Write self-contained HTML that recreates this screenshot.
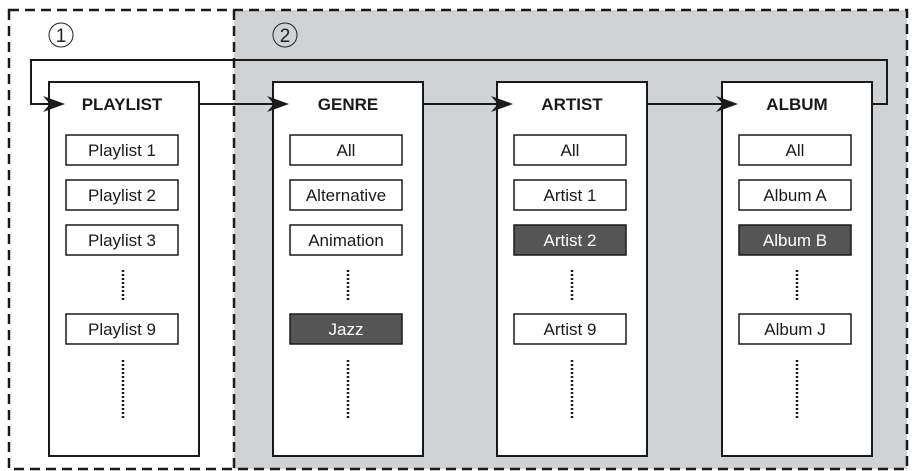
<!DOCTYPE html>
<html><head><meta charset="utf-8"><style>
html,body{margin:0;padding:0;background:#fff;}
svg{display:block;}
</style></head><body>
<svg width="912" height="471" viewBox="0 0 912 471" xmlns="http://www.w3.org/2000/svg" font-family="'Liberation Sans', Arial, sans-serif">
<defs>
<g id="ah"><path d="M-22,-8 L0,0 L-22,8 L-15,0 Z" fill="#1a1a1a"/></g>
</defs>
<rect x="234" y="10" width="673" height="459" fill="#d1d2d4"/>
<rect x="9" y="10" width="898" height="459" fill="none" stroke="#1a1a1a" stroke-width="2.5" stroke-dasharray="10,6"/>
<line x1="234" y1="10" x2="234" y2="469" stroke="#1a1a1a" stroke-width="2.5" stroke-dasharray="10,6"/>
<circle cx="61" cy="35" r="12" fill="none" stroke="#222" stroke-width="1"/>
<text x="61" y="42" font-size="19" text-anchor="middle" fill="#222" font-family="'Liberation Sans', Arial, sans-serif">1</text>
<circle cx="285" cy="35" r="12" fill="none" stroke="#222" stroke-width="1"/>
<text x="285" y="42" font-size="19" text-anchor="middle" fill="#222" font-family="'Liberation Sans', Arial, sans-serif">2</text>
<polyline points="51,104 31,104 31,60 887,60 887,104 872,104" fill="none" stroke="#1a1a1a" stroke-width="2"/>
<g stroke="#1a1a1a" stroke-width="2">
<line x1="199" y1="104" x2="275" y2="104"/>
<line x1="423" y1="104" x2="499" y2="104"/>
<line x1="647" y1="104" x2="724" y2="104"/>
</g>
<g fill="#fff" stroke="#1a1a1a" stroke-width="2">
<rect x="49" y="82" width="150" height="374"/>
<rect x="273" y="82" width="150" height="374"/>
<rect x="497" y="82" width="150" height="374"/>
<rect x="722" y="82" width="150" height="374"/>
</g>
<use href="#ah" x="65" y="104"/>
<use href="#ah" x="289" y="104"/>
<use href="#ah" x="513" y="104"/>
<use href="#ah" x="738" y="104"/>
<g font-size="17" font-weight="bold" text-anchor="middle" fill="#1a1a1a" font-family="'Liberation Sans', Arial, sans-serif">
<text x="122" y="110">PLAYLIST</text>
<text x="348" y="110">GENRE</text>
<text x="572" y="110">ARTIST</text>
<text x="797" y="110">ALBUM</text>
</g>
<g stroke="#1a1a1a" stroke-width="1.5" fill="#fff">
<rect x="66" y="135" width="112" height="30"/><rect x="66" y="180" width="112" height="30"/><rect x="66" y="225" width="112" height="30"/><rect x="66" y="314" width="112" height="30"/>
<rect x="290" y="135" width="112" height="30"/><rect x="290" y="180" width="112" height="30"/><rect x="290" y="225" width="112" height="30"/><rect x="290" y="314" width="112" height="30" fill="#555"/>
<rect x="514" y="135" width="112" height="30"/><rect x="514" y="180" width="112" height="30"/><rect x="514" y="225" width="112" height="30" fill="#555"/><rect x="514" y="314" width="112" height="30"/>
<rect x="739" y="135" width="112" height="30"/><rect x="739" y="180" width="112" height="30"/><rect x="739" y="225" width="112" height="30" fill="#555"/><rect x="739" y="314" width="112" height="30"/>
</g>
<g font-size="17" text-anchor="middle" fill="#1a1a1a" font-family="'Liberation Sans', Arial, sans-serif">
<text x="122" y="156">Playlist 1</text><text x="122" y="201">Playlist 2</text><text x="122" y="246">Playlist 3</text><text x="122" y="335">Playlist 9</text>
<text x="346" y="156">All</text><text x="346" y="201">Alternative</text><text x="346" y="246">Animation</text><text x="346" y="335" fill="#fff">Jazz</text>
<text x="570" y="156">All</text><text x="570" y="201">Artist 1</text><text x="570" y="246" fill="#fff">Artist 2</text><text x="570" y="335">Artist 9</text>
<text x="795" y="156">All</text><text x="795" y="201">Album A</text><text x="795" y="246" fill="#fff">Album B</text><text x="795" y="335">Album J</text>
</g>
<g stroke="#1a1a1a" stroke-width="2.5" stroke-dasharray="2,2">
<line x1="123" y1="270" x2="123" y2="300"/><line x1="123" y1="360" x2="123" y2="418"/>
<line x1="348" y1="270" x2="348" y2="300"/><line x1="348" y1="360" x2="348" y2="418"/>
<line x1="572" y1="270" x2="572" y2="300"/><line x1="572" y1="360" x2="572" y2="418"/>
<line x1="797" y1="270" x2="797" y2="300"/><line x1="797" y1="360" x2="797" y2="418"/>
</g>
</svg>
</body></html>
